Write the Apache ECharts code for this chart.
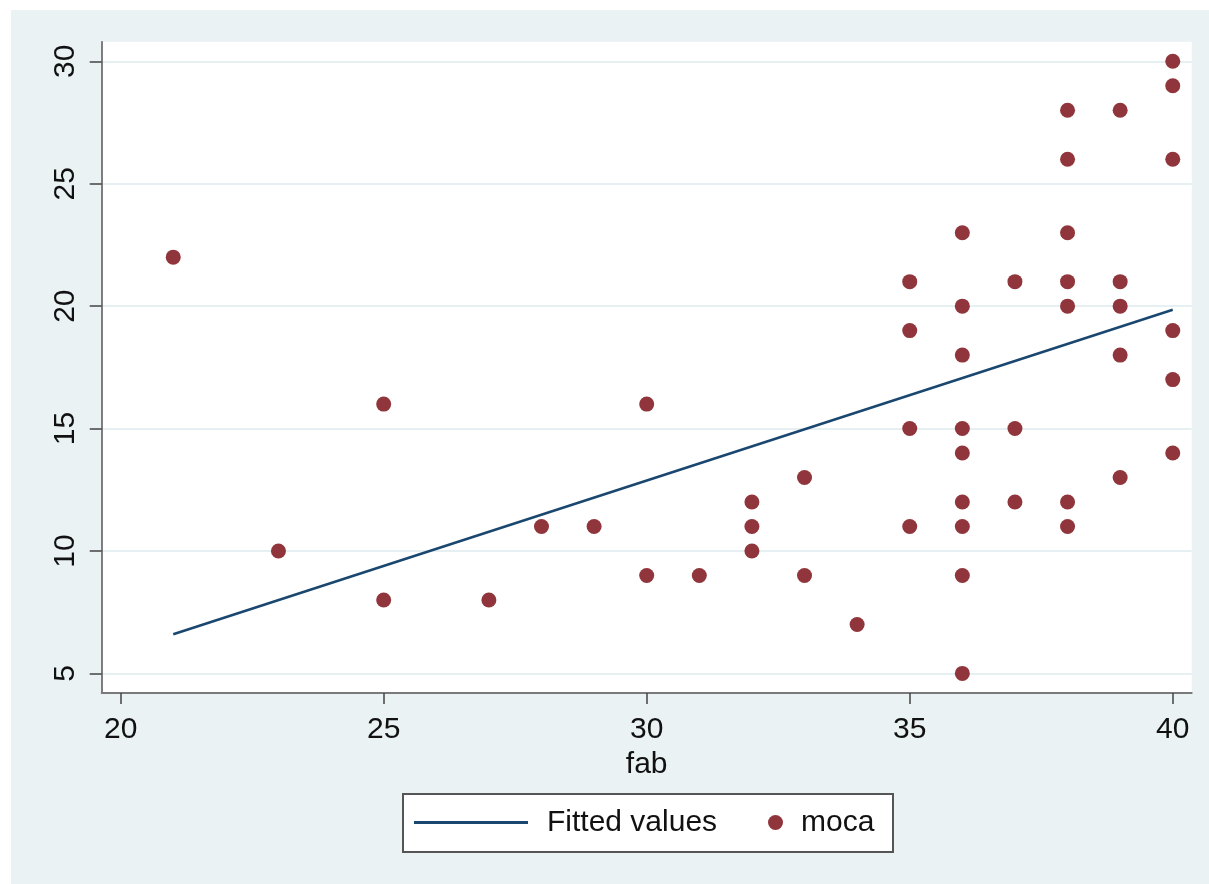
<!DOCTYPE html>
<html>
<head>
<meta charset="utf-8">
<title>moca vs fab</title>
<script src="https://cdn.jsdelivr.net/npm/echarts@6/dist/echarts.min.js"></script>
<style>
  html, body { margin: 0; padding: 0; background: #ffffff; }
  #chart {
    position: absolute;
    left: 11px;
    top: 10px;
    width: 1198px;
    height: 874px;
    background: #eaf2f3;
  }
</style>
</head>
<body>
<div id="chart"></div>
<script>
// fab score of each subject
const fab = [
  21, 23, 25, 25, 27, 28, 29, 30, 30, 31,
  32, 32, 32, 33, 33, 34,
  35, 35, 35, 35,
  36, 36, 36, 36, 36, 36, 36, 36, 36,
  37, 37, 37,
  38, 38, 38, 38, 38, 38, 38,
  39, 39, 39, 39, 39,
  40, 40, 40, 40, 40, 40
];
// moca score of each subject (same order as fab)
const moca = [
  22, 10, 16, 8, 8, 11, 11, 16, 9, 9,
  12, 11, 10, 13, 9, 7,
  21, 19, 15, 11,
  23, 20, 18, 15, 14, 12, 11, 9, 5,
  21, 15, 12,
  28, 26, 23, 21, 20, 12, 11,
  28, 21, 20, 18, 13,
  30, 29, 26, 19, 17, 14
];
// linear fit: end points [fab, fitted moca]
const fitX = [21, 40];
const fitY = [6.6, 19.85];

const xTicks = [20, 25, 30, 35, 40];
const yTicks = [5, 10, 15, 20, 25, 30];

const FONT = '"Liberation Sans", Arial, sans-serif';
const TEXT = '#111111';
const NAVY = '#1a476f';
const MAROON = '#90353b';

const scatterData = fab.map((x, i) => [x, moca[i]]);
const fitData = fitX.map((x, i) => [x, fitY[i]]);

const chart = echarts.init(document.getElementById('chart'), null, { renderer: 'canvas' });

chart.setOption({
  animation: false,
  backgroundColor: '#eaf2f3',
  textStyle: { fontFamily: FONT },
  grid: {
    left: 90.7,
    top: 31.7,
    right: 17.3,
    bottom: 191,
    show: true,
    backgroundColor: '#ffffff',
    borderWidth: 0
  },
  xAxis: {
    type: 'value',
    min: 19.64,
    max: 40.36,
    name: 'fab',
    nameLocation: 'middle',
    nameGap: 44,
    nameTextStyle: { fontSize: 30, color: TEXT, fontFamily: FONT },
    axisLine: { show: true, onZero: false, lineStyle: { color: '#7a7a7a', width: 2 } },
    axisTick: { show: true, length: 11, customValues: xTicks, lineStyle: { color: '#444', width: 1.5 } },
    axisLabel: { customValues: xTicks, margin: 22, fontSize: 30, color: TEXT, fontFamily: FONT },
    splitLine: { show: false }
  },
  yAxis: {
    type: 'value',
    min: 4.2,
    max: 30.8,
    axisLine: { show: true, onZero: false, lineStyle: { color: '#555555', width: 1.5 } },
    axisTick: { show: true, length: 12, customValues: yTicks, lineStyle: { color: '#444', width: 1.5 } },
    axisLabel: { customValues: yTicks, rotate: 90, margin: 21, fontSize: 30, color: TEXT, fontFamily: FONT },
    splitLine: { show: true, lineStyle: { color: '#e6eff1', width: 2 } }
  },
  graphic: [{
    type: 'rect',
    left: 391,
    top: 783,
    shape: { width: 490, height: 58 },
    style: { fill: '#ffffff', stroke: '#555555', lineWidth: 2 },
    z: 1
  }],
  legend: [
    {
      data: [{ name: 'Fitted values', icon: 'rect' }],
      left: 403,
      top: 797.5,
      padding: 0,
      itemWidth: 114,
      itemHeight: 3,
      textStyle: { fontSize: 30, color: TEXT, fontFamily: FONT, padding: [0, 0, 0, 14] }
    },
    {
      data: [{ name: 'moca', icon: 'circle' }],
      left: 757,
      top: 797.5,
      padding: 0,
      itemWidth: 15,
      itemHeight: 15,
      textStyle: { fontSize: 30, color: TEXT, fontFamily: FONT, padding: [0, 0, 0, 13] }
    }
  ],
  series: [
    {
      name: 'Fitted values',
      type: 'line',
      data: fitData,
      showSymbol: false,
      symbol: 'none',
      color: NAVY,
      itemStyle: { color: NAVY },
      lineStyle: { color: NAVY, width: 2.5 },
      z: 2
    },
    {
      name: 'moca',
      type: 'scatter',
      data: scatterData,
      symbol: 'circle',
      symbolSize: 15,
      itemStyle: { color: MAROON, opacity: 1 },
      z: 3
    }
  ]
});
</script>
</body>
</html>
